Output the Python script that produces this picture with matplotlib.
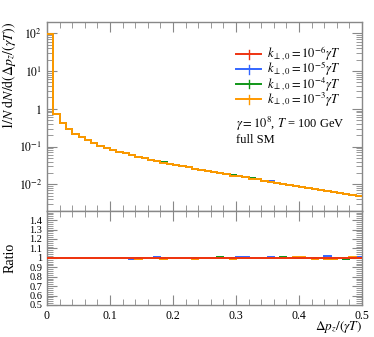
import numpy as np
import matplotlib
matplotlib.use("Agg")
import matplotlib.pyplot as plt
from matplotlib.lines import Line2D
from matplotlib.ticker import FixedLocator, NullFormatter, LogLocator, MultipleLocator

plt.rcParams['font.family'] = ['Liberation Serif', 'DejaVu Serif']
plt.rcParams['mathtext.fontset'] = 'stix'

edges = np.linspace(0.0, 0.5, 51)

ref_values = [97.0, 0.74, 0.425, 0.295, 0.217, 0.181, 0.151, 0.125, 0.104, 0.092,
              0.082, 0.072, 0.066, 0.059, 0.0533, 0.0486, 0.0444, 0.0410, 0.0379, 0.0350,
              0.0325, 0.0302, 0.0281, 0.0261, 0.0243, 0.0227, 0.0212, 0.0198, 0.0185, 0.0173,
              0.0162, 0.0152, 0.0143, 0.0135, 0.0126, 0.0118, 0.0110, 0.0104, 0.00976, 0.00912,
              0.00853, 0.00803, 0.00755, 0.00710, 0.00668, 0.00628, 0.00591, 0.00556, 0.00523, 0.00492]

ratio_blue = [1.0, 1.0, 1.0, 1.0, 1.0, 1.0, 1.0, 1.0, 1.0, 1.0,
              1.0, 1.0, 1.0, 0.99, 1.0, 1.0, 1.0, 1.01, 1.0, 1.0,
              1.0, 1.0, 1.0, 1.0, 1.0, 1.0, 1.0, 1.0, 1.0, 1.0,
              1.01, 1.01, 1.0, 1.0, 1.0, 1.01, 1.0, 1.0, 1.0, 1.0,
              1.0, 1.0, 1.0, 1.0, 1.02, 1.0, 1.0, 0.99, 1.0, 1.01]
ratio_green = [1.0, 1.0, 1.0, 1.0, 1.0, 1.0, 1.0, 1.0, 1.0, 1.0,
               1.0, 1.0, 1.0, 1.0, 1.0, 1.0, 1.0, 1.0, 1.0, 1.0,
               1.0, 1.0, 1.0, 1.0, 1.0, 1.0, 1.0, 1.01, 1.0, 1.0,
               1.0, 1.0, 1.0, 1.0, 1.0, 1.0, 1.0, 1.01, 1.0, 1.0,
               1.0, 1.0, 1.0, 1.0, 0.99, 0.99, 1.0, 0.985, 1.0, 1.0]
ratio_orange = [1.0, 1.0, 0.995, 0.995, 0.995, 1.0, 1.0, 1.0, 1.0, 1.0,
                1.0, 1.0, 1.0, 1.0, 0.99, 1.0, 1.0, 1.0, 0.99, 1.0,
                1.0, 1.0, 1.0, 0.99, 1.0, 1.0, 1.0, 1.0, 1.0, 0.99,
                1.0, 1.0, 0.995, 1.0, 1.0, 1.0, 1.0, 1.0, 1.0, 1.01,
                1.01, 1.0, 0.99, 1.0, 0.99, 0.99, 1.0, 1.0, 1.01, 1.0]

labels = [r"$k_{\perp,0} = 10^{-6}\gamma T$", r"$k_{\perp,0} = 10^{-5}\gamma T$",
          r"$k_{\perp,0} = 10^{-4}\gamma T$", r"$k_{\perp,0} = 10^{-3}\gamma T$"]
colors = ['#EE3311', '#3366FF', '#109618', '#FF9900']

ref = np.array(ref_values)
ratios = [np.ones(50), np.array(ratio_blue), np.array(ratio_green), np.array(ratio_orange)]

W, H = 374, 337
L, R, T, M, B = 47, 362, 22, 210.7, 305
fig = plt.figure(figsize=(W / 100, H / 100), dpi=100)
ax = fig.add_axes([L / W, 1 - M / H, (R - L) / W, (M - T) / H])
axr = fig.add_axes([L / W, 1 - B / H, (R - L) / W, (B - M) / H])

gray = '#888888'
for i, (c, r) in enumerate(zip(colors, ratios)):
    ax.stairs(ref * r, edges, color=c, lw=1.4, baseline=None, zorder=2 + i)

for i, (c, r) in enumerate(zip(colors, ratios)):
    if i == 0:
        continue
    axr.stairs(r, edges, color=c, lw=1.4, baseline=None, zorder=2 + i)
axr.stairs(ratios[0], edges, color=colors[0], lw=1.4, baseline=None, zorder=10)

ax.set_yscale('log')
ax.set_xlim(0, 0.5)
ax.set_ylim(0.002, 200)
axr.set_xlim(0, 0.5)
axr.set_ylim(0.5, 1.5)

for a in (ax, axr):
    for s in a.spines.values():
        s.set_color(gray)
        s.set_linewidth(1.0)
    a.tick_params(which='both', direction='in', top=True, right=True, colors=gray,
                  labelcolor='black', labelsize=8.5)
    a.tick_params(which='major', length=7, width=0.8)
    a.tick_params(which='minor', length=4, width=0.6)
    a.xaxis.set_major_locator(MultipleLocator(0.1))
    a.xaxis.set_minor_locator(MultipleLocator(0.02))

ax.set_xticklabels([])
ax.yaxis.set_major_locator(FixedLocator([1e-2, 1e-1, 1, 10, 100]))
ax.set_yticklabels([r"$10^{-2}$", r"$10^{-1}$", r"$1$", r"$10^{1}$", r"$10^{2}$"])
ax.yaxis.set_minor_locator(LogLocator(base=10, subs=np.arange(2, 10)))
ax.yaxis.set_minor_formatter(NullFormatter())

axr.yaxis.set_major_locator(FixedLocator([0.5, 0.6, 0.7, 0.8, 0.9, 1.0, 1.1, 1.2, 1.3, 1.4]))
axr.set_yticklabels(["0.5", "0.6", "0.7", "0.8", "0.9", "1", "1.1", "1.2", "1.3", "1.4"])
axr.tick_params(axis='y', labelsize=7.5)
axr.yaxis.set_minor_locator(MultipleLocator(0.02))
axr.set_xticks([0, 0.1, 0.2, 0.3, 0.4, 0.5])
axr.set_xticklabels(["0", "0.1", "0.2", "0.3", "0.4", "0.5"])

ax.set_ylabel(r"$1/N\;\mathrm{d}N/\mathrm{d}(\Delta p_z/(\gamma T))$", fontsize=10, loc='top')
ax.yaxis.set_label_coords(-0.092, 1.0)
axr.set_ylabel("Ratio", fontsize=10)
axr.yaxis.set_label_coords(-0.098, 0.5)
fig.text(R / W, 1 - 327.5 / H, r"$\Delta p_z/(\gamma T)$", fontsize=9.5, ha='right', va='center')

# legend drawn manually
def fx(px):
    return (px - L) / (R - L)

def fy(py):
    return 1 - (py - T) / (M - T)

leg_y = [54, 69, 84, 99]
for c, lab, yy in zip(colors, labels, leg_y):
    ax.add_line(Line2D([fx(236), fx(261)], [fy(yy), fy(yy)], transform=ax.transAxes,
                       color=c, lw=1.4, clip_on=False))
    ax.add_line(Line2D([fx(248.5), fx(248.5)], [fy(yy - 4.5), fy(yy + 4.5)], transform=ax.transAxes,
                       color=c, lw=1.0, clip_on=False))
    ax.text(fx(267), fy(yy), lab, transform=ax.transAxes, fontsize=9, va='center', ha='left')

ax.text(fx(236), fy(124), r"$\gamma = 10^{8}$, $T$ = 100 GeV", transform=ax.transAxes,
        fontsize=9, va='center', ha='left')
ax.text(fx(236), fy(139.5), "full SM", transform=ax.transAxes, fontsize=9, va='center', ha='left')

fig.savefig("out.png", dpi=100)
